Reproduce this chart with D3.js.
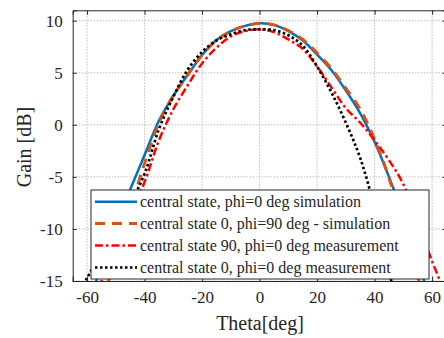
<!DOCTYPE html>
<html><head><meta charset="utf-8">
<script src="https://cdn.jsdelivr.net/npm/d3@7"></script>
<style>body{margin:0;background:#fff}svg{display:block}svg text{font-family:"Liberation Serif","Times New Roman",serif !important;fill:#262626}</style>
</head><body><svg id="c" width="444" height="338"></svg>
<script>
const theta = [-65,-60,-55,-50,-45,-40,-35,-30,-25,-20,-15,-10,-5,0,5,10,15,20,25,30,35,40,45,50,55,60,65];
const simPhi0   = [-23,-18,-13.4,-9.3,-6.2,-2.9,0.4,2.8,4.8,6.7,8.15,9.0,9.5,9.75,9.6,9.0,8.1,6.75,5.25,3.3,1.1,-1.65,-5.0,-8.7,-13.0,-17.5,-22];
const simPhi90  = [-26,-21.8,-17.3,-12.7,-8.1,-3.7,0.2,2.8,4.8,6.7,8.1,9.0,9.5,9.75,9.6,9.05,8.2,6.9,5.4,3.5,1.5,-1.4,-5.1,-9.8,-14.6,-19.5,-24];
const meas90    = [-22,-18.5,-15,-11.8,-8.5,-5.5,-1.5,1.5,3.8,5.9,7.4,8.5,9.0,9.17,8.9,8.2,7.3,5.6,3.6,1.6,0.2,-1.5,-3.4,-5.7,-9.3,-13.1,-16.5];
const meas0     = [-17,-14.7,-12.3,-10.0,-7.6,-4.7,-0.4,2.7,5.3,7.0,8.1,8.7,9.1,9.17,9.1,8.6,7.6,5.6,3.1,0.2,-3.2,-8.0,-14,-20,-26,-32,-38];
const seriesNames = ["central state, phi=0 deg simulation","central state 0, phi=90 deg - simulation","central state 90, phi=0 deg measurement","central state 0, phi=0 deg measurement"];
const xTicks = [-60,-40,-20,0,20,40,60];
const yTicks = [-15,-10,-5,0,5,10];

const series = [
 {name:seriesNames[0], vals:simPhi0, color:"#0072BD", w:2.5, dash:null},
 {name:seriesNames[1], vals:simPhi90, color:"#D95319", w:3, dash:"10,7"},
 {name:seriesNames[2], vals:meas90, color:"#FF0000", w:2.5, dash:"8,3,2.5,3"},
 {name:seriesNames[3], vals:meas0, color:"#000000", w:2.7, dash:"2.5,2.5"}
];

const svg = d3.select("#c");
const L=72.7, R=446.5, T=10.3, B=281;
const x = d3.scaleLinear().domain([-65,65]).range([L,R]);
const y = d3.scaleLinear().domain([-15,11]).range([B,T]);
const FONT = "'Liberation Serif', 'Times New Roman', serif";

svg.append("defs").append("clipPath").attr("id","clip").append("rect")
  .attr("x",L).attr("y",T).attr("width",R-L).attr("height",B-T);

// grid
const grid = svg.append("g").attr("stroke","#bdbdbd").attr("stroke-width",1).attr("stroke-dasharray","1.5,1.5");
xTicks.forEach(t=>grid.append("line").attr("x1",x(t)).attr("x2",x(t)).attr("y1",T).attr("y2",B));
yTicks.forEach(t=>grid.append("line").attr("x1",L).attr("x2",R).attr("y1",y(t)).attr("y2",y(t)));

// curves
const line = d3.line().x((d,i)=>x(theta[i])).y(d=>y(d)).curve(d3.curveCatmullRom.alpha(0.5));
const cg = svg.append("g").attr("clip-path","url(#clip)");
series.forEach(s=>{
  cg.append("path").attr("d",line(s.vals)).attr("fill","none").attr("stroke",s.color)
    .attr("stroke-width",s.w).attr("stroke-dasharray",s.dash);
});

// axes
const fmt = d => String(d);
const ax = d3.axisBottom(x).tickValues(xTicks).tickSize(-4.5).tickPadding(10).tickFormat(fmt);
const gx = svg.append("g").attr("transform",`translate(0,${B})`).call(ax);
const ay = d3.axisLeft(y).tickValues(yTicks).tickSize(-4).tickPadding(10).tickFormat(fmt);
const gy = svg.append("g").attr("transform",`translate(${L},0)`).call(ay);
const axt = d3.axisTop(x).tickValues(xTicks).tickSize(-4.5).tickFormat("");
svg.append("g").attr("transform",`translate(0,${T})`).call(axt);
const ayr = d3.axisRight(y).tickValues(yTicks).tickSize(-4).tickFormat("");
svg.append("g").attr("transform",`translate(${R},0)`).call(ayr);
svg.selectAll(".domain").attr("stroke","#262626");
svg.selectAll(".tick line").attr("stroke","#262626");
[gx,gy].forEach(g=>{
  g.attr("font-family",null).attr("font-size",null);
  g.selectAll("text").style("font-family",FONT).style("font-size","17px").attr("fill","#262626");
});

svg.append("text").attr("x",260).attr("y",330).attr("text-anchor","middle").style("font-size","20px").text("Theta[deg]");
svg.append("text").attr("transform","translate(31,147) rotate(-90)").attr("text-anchor","middle").style("font-size","20px").text("Gain [dB]");

// legend
const lg = svg.append("g");
lg.append("rect").attr("x",91).attr("y",190).attr("width",338).attr("height",89)
  .attr("fill","#fff").attr("stroke","#262626").attr("stroke-width",1);
const ly = [201.7,223.5,245.5,267.5];
series.forEach((s,i)=>{
  lg.append("line").attr("x1",95).attr("x2",137).attr("y1",ly[i]).attr("y2",ly[i])
    .attr("stroke",s.color).attr("stroke-width",s.w).attr("stroke-dasharray",s.dash);
  lg.append("text").attr("x",140).attr("y",ly[i]+5.5).style("font-size","16px").text(s.name);
});
</script></body></html>
